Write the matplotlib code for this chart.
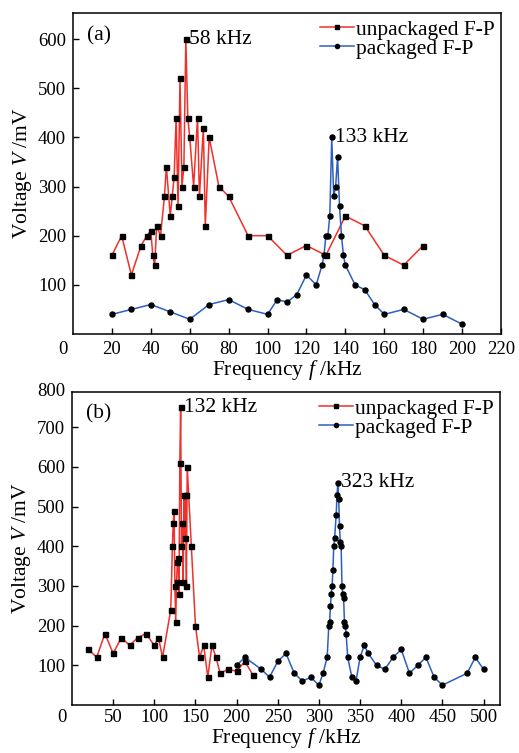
import matplotlib
matplotlib.use("Agg")
import matplotlib.pyplot as plt
from matplotlib.lines import Line2D

# ---------------- data ----------------
# panel (a)
a_unpack_f = [20, 25, 30, 35, 38, 40, 41, 42, 43, 45, 47, 48, 50, 51, 52, 53, 54, 55, 56, 57,
              58, 59, 60, 62, 64, 65, 67, 68, 70, 75, 80, 90, 100, 110, 120, 130, 140, 150,
              160, 170, 180]
a_unpack_v = [160, 200, 120, 180, 200, 210, 160, 140, 220, 200, 280, 340, 240, 280, 320, 440,
              260, 520, 300, 340, 600, 440, 400, 300, 440, 280, 420, 220, 400, 300, 280, 200,
              200, 160, 180, 160, 240, 220, 160, 140, 180]
a_pack_f = [20, 30, 40, 50, 60, 70, 80, 90, 100, 105, 110, 115, 120, 125, 128, 129, 130, 131,
            132, 133, 134, 135, 136, 137, 138, 139, 140, 145, 150, 155, 160, 170, 180, 190, 200]
a_pack_v = [40, 50, 60, 45, 30, 60, 70, 50, 40, 70, 65, 80, 120, 100, 140, 160, 200, 200,
            240, 400, 280, 300, 360, 260, 200, 160, 140, 100, 90, 60, 40, 50, 30, 40, 20]

# panel (b)
b_unpack_f = [20, 30, 40, 50, 60, 70, 80, 90, 100, 105, 110, 120, 122, 123, 124, 125, 126,
              127, 128, 129, 130, 131, 132, 133, 134, 135, 136, 137, 138, 139, 140, 145, 150,
              155, 160, 165, 170, 175, 180, 190, 200, 210, 220]
b_unpack_v = [140, 120, 180, 130, 170, 150, 170, 180, 150, 170, 120, 240, 400, 460, 490, 300,
              210, 310, 360, 370, 280, 610, 750, 400, 460, 310, 530, 420, 530, 300, 600, 400,
              200, 120, 150, 70, 150, 120, 80, 90, 85, 110, 75]
b_pack_f = [200, 210, 230, 240, 250, 260, 270, 280, 290, 300, 305, 310, 312, 313, 314, 315,
            316, 317, 318, 319, 321, 322, 323, 324, 325, 326, 327, 328, 329, 330, 331, 332,
            333, 335, 340, 345, 350, 355, 360, 370, 380, 390, 400, 410, 420, 430, 440, 450,
            480, 490, 500]
b_pack_v = [100, 120, 90, 70, 110, 130, 80, 60, 70, 50, 80, 120, 200, 210, 250, 280, 300, 340,
            400, 420, 480, 530, 560, 520, 450, 410, 400, 300, 280, 270, 210, 200, 180, 120, 70,
            60, 120, 150, 130, 100, 90, 120, 140, 80, 100, 120, 70, 50, 80, 120, 90]

a_xticks = [20, 40, 60, 80, 100, 120, 140, 160, 180, 200, 220]
a_yticks = [100, 200, 300, 400, 500, 600]
b_xticks = [50, 100, 150, 200, 250, 300, 350, 400, 450, 500]
b_yticks = [100, 200, 300, 400, 500, 600, 700]

a_peaks = [(58, 600, "58 kHz"), (133, 400, "133 kHz")]
b_peaks = [(132, 750, "132 kHz"), (323, 560, "323 kHz")]

series_names = ["unpackaged F-P", "packaged F-P"]

# ---------------- style ----------------
FONT = "Liberation Serif"
plt.rcParams["font.family"] = [FONT, "DejaVu Serif"]
plt.rcParams["mathtext.fontset"] = "custom"
plt.rcParams["mathtext.it"] = FONT + ":italic"
plt.rcParams["mathtext.rm"] = FONT
RED = "#f0302a"
BLUE = "#2c5fbf"
TICK_FS = 13.5
LAB_FS = 15.5
LEG_FS = 15.5
ANN_FS = 15.5

fig = plt.figure(figsize=(5.19, 7.53), dpi=100)
W, H = 519.0, 753.0


def add_axes(l, r, t, b):
    return fig.add_axes([l / W, 1 - b / H, (r - l) / W, (b - t) / H])


ax_a = add_axes(73, 501, 13, 334)
ax_b = add_axes(72, 500, 392, 705)


def draw(ax, uf, uv, pf, pv, xlim, ylim, xt, yt, peaks, tag, xpad, lpad,
         top_label=None):
    ax.plot(uf, uv, color=RED, lw=1.1, marker="s", ms=3.6, mfc="black", mec="black",
            zorder=3, label=series_names[0])
    ax.plot(pf, pv, color=BLUE, lw=1.1, marker="o", ms=3.6, mfc="black", mec="black",
            zorder=3, label=series_names[1])
    ax.set_xlim(*xlim)
    ax.set_ylim(*ylim)
    ax.set_xticks(xt)
    ax.set_yticks(yt)
    ax.tick_params(direction="in", length=4, width=1, labelsize=TICK_FS,
                   top=False, right=False)
    ax.tick_params(axis="x", pad=xpad)
    ax.tick_params(axis="y", pad=5)
    for s in ax.spines.values():
        s.set_linewidth(1.1)
    ax.set_xlabel(r"Frequency $f$ /kHz", fontsize=LAB_FS, labelpad=lpad)
    ax.set_ylabel(r"Voltage $V$ /mV", fontsize=LAB_FS, labelpad=3)
    # shared origin label
    ax.annotate("0", (0, 0), xycoords="axes fraction", xytext=(-7.5, -xpad),
                textcoords="offset points", ha="center", va="top", fontsize=TICK_FS)
    if top_label is not None:
        ax.text(-0.016, 1.0, top_label, transform=ax.transAxes, ha="right",
                va="center", fontsize=TICK_FS)
    ax.text(0.033, 0.93, tag, transform=ax.transAxes, ha="left", va="center",
            fontsize=ANN_FS)
    for f, v, s in peaks:
        ax.annotate(s, (f, v), xytext=(2.5, 0), textcoords="offset points",
                    ha="left", va="center", fontsize=ANN_FS)
    handles = [Line2D([], [], color=RED, lw=1.1, marker="s", ms=3.0, mfc="black",
                      mec="black"),
               Line2D([], [], color=BLUE, lw=1.1, marker="o", ms=3.0, mfc="black",
                      mec="black")]
    ax.legend(handles, series_names, loc="upper right", frameon=False, fontsize=LEG_FS,
              handlelength=1.55, handletextpad=0.1, borderaxespad=0.1,
              labelspacing=-0.03, borderpad=0.2)


draw(ax_a, a_unpack_f, a_unpack_v, a_pack_f, a_pack_v, (0, 220), (0, 653),
     a_xticks, a_yticks, a_peaks, "(a)", 5, 0)
draw(ax_b, b_unpack_f, b_unpack_v, b_pack_f, b_pack_v, (0, 520), (0, 789),
     b_xticks, b_yticks, b_peaks, "(b)", 3, 0, top_label="800")

fig.savefig("out.png", dpi=100)
